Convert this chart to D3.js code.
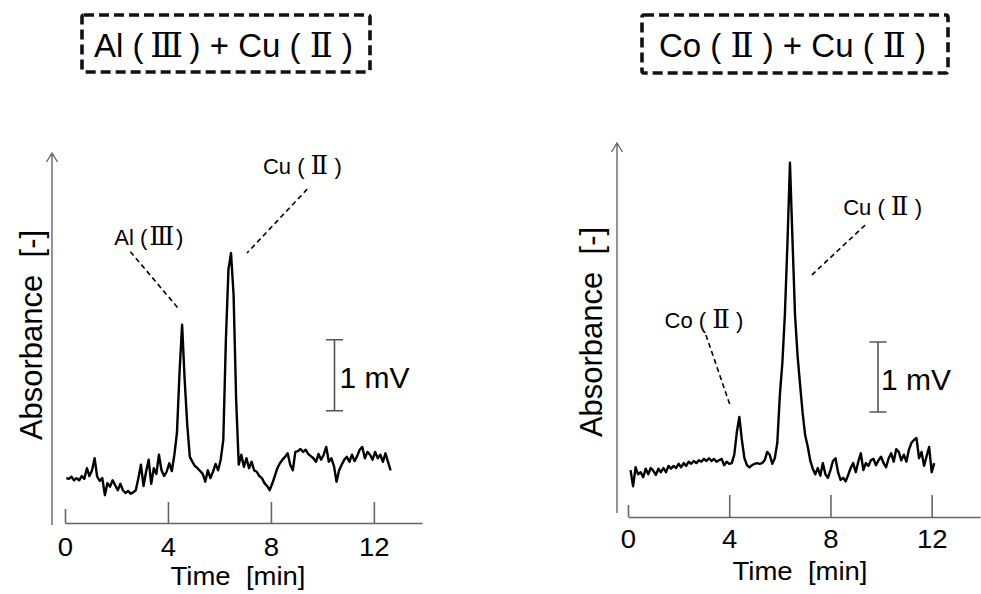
<!DOCTYPE html>
<html>
<head>
<meta charset="utf-8">
<script src="https://cdn.jsdelivr.net/npm/d3@7"></script>
<style>
  html, body { margin: 0; padding: 0; background: #fff; }
  svg { display: block; }
  text { font-family: "Liberation Sans", Arial, sans-serif; fill: #000; }
</style>
</head>
<body>
<svg id="chart" width="981" height="594"></svg>
<script>
// ---- Detector signal (mV), sampled every 0.1 min ----
const alCuStart = 0.05;
const alCuStep = 0.1;
const alCuSignal = [
  0.66,0.65,0.68,0.63,0.66,0.63,0.69,0.65,0.80,0.69,
  0.77,0.94,0.68,0.62,0.66,0.42,0.59,0.54,0.63,0.56,
  0.49,0.58,0.49,0.45,0.48,0.44,0.46,0.49,0.66,0.85,
  0.55,0.75,0.92,0.58,0.80,0.72,0.99,0.77,0.69,0.75,
  0.87,0.76,0.99,1.30,2.15,2.82,2.04,1.41,0.96,0.89,
  0.83,0.80,0.76,0.72,0.61,0.77,0.66,0.75,0.86,0.77,
  0.92,1.20,2.60,3.60,3.83,3.24,1.76,0.85,0.99,0.82,
  0.94,0.80,0.89,0.77,0.75,0.69,0.66,0.59,0.55,0.49,
  0.58,0.69,0.80,0.87,0.92,0.96,1.01,0.85,0.77,1.03,
  1.04,1.07,1.03,1.06,1.00,0.97,0.94,0.89,1.00,0.92,
  0.99,1.10,0.89,0.94,0.83,0.61,0.77,0.85,0.92,0.96,
  0.89,0.99,0.90,0.97,1.06,1.10,0.94,1.03,0.99,0.92,
  1.03,0.94,0.99,0.89,1.01,0.89,0.77
];

const coCuStart = 0.1;
const coCuStep = 0.1;
const coCuSignal = [
  0.67,0.44,0.71,0.61,0.64,0.57,0.69,0.61,0.70,0.66,
  0.60,0.69,0.64,0.70,0.64,0.73,0.69,0.73,0.70,0.76,
  0.71,0.77,0.73,0.79,0.76,0.80,0.77,0.81,0.79,0.83,
  0.80,0.84,0.80,0.83,0.79,0.81,0.83,0.74,0.79,0.76,
  0.77,0.89,1.21,1.43,1.10,0.84,0.74,0.71,0.74,0.76,
  0.77,0.76,0.77,0.81,0.93,0.89,0.76,0.84,1.06,1.74,
  2.20,2.90,3.90,5.06,3.96,2.89,2.31,1.89,1.49,1.17,
  1.01,0.81,0.69,0.61,0.70,0.59,0.77,0.61,0.56,0.67,
  0.80,0.84,0.64,0.53,0.56,0.51,0.60,0.70,0.77,0.64,
  0.79,0.91,0.67,0.77,0.73,0.81,0.83,0.74,0.81,0.86,
  0.77,0.71,0.84,0.91,0.79,0.97,0.93,0.81,0.89,0.79,
  0.96,1.06,1.10,1.13,0.84,0.93,0.73,0.87,1.00,0.64,
  0.77
];

const timeTicks = [0, 4, 8, 12];
const panelTitles = ["Al (\u2009Ⅲ\u2009) + Cu ( Ⅱ )", "Co ( Ⅱ ) + Cu ( Ⅱ )"];
const xAxisTitle = "Time  [min]";
const yAxisTitle = "Absorbance  [-]";
const scaleBarLabel = "1 mV";

// peak annotations: label, label position (min, mV), leader from -> to (min, mV)
const alCuPeaks = [
  { label: "Al (\u200AⅢ\u200A)", t: 3.26, v: 3.94, from: [2.54, 3.85], to: [4.38, 3.06] },
  { label: "Cu ( Ⅱ )", t: 9.22, v: 4.94, from: [9.41, 4.73], to: [7.07, 3.83] }
];
const coCuPeaks = [
  { label: "Co ( Ⅱ )", t: 3.00, v: 2.70, from: [3.08, 2.60], to: [4.03, 1.60] },
  { label: "Cu ( Ⅱ )", t: 10.06, v: 4.31, from: [9.37, 4.17], to: [7.27, 3.46] }
];

const numeralFont = '"DejaVu Serif", "Noto Sans CJK JP", serif';
const labelFont = 'Lato, "Open Sans", sans-serif';

const svg = d3.select("#chart");

// writes a string, switching Roman-numeral runs to a font that carries them
function richText(sel, str, numeralSize) {
  str.split(/([\u2160-\u217F]+)/).forEach(p => {
    if (!p) return;
    const ts = sel.append("tspan").text(p);
    if (/[\u2160-\u217F]/.test(p)) {
      ts.attr("font-family", numeralFont);
      if (numeralSize) ts.attr("font-size", numeralSize);
    }
  });
  return sel;
}

function drawPanel(cfg) {
  const x = d3.scaleLinear().domain([0, cfg.tMax]).range(cfg.xRange);
  const y = d3.scaleLinear().domain([0, cfg.vMax]).range(cfg.yRange);
  const g = svg.append("g");

  // title in a dashed frame
  g.append("rect")
    .attr("x", cfg.box[0]).attr("y", cfg.box[1])
    .attr("width", cfg.box[2]).attr("height", cfg.box[3])
    .attr("rx", 2)
    .attr("fill", "none").attr("stroke", "#111")
    .attr("stroke-width", 3.6).attr("stroke-dasharray", "10,5");
  richText(g.append("text")
    .attr("x", cfg.titleX).attr("y", 57)
    .attr("text-anchor", "middle").attr("font-size", 33)
    .attr("xml:space", "preserve"), cfg.title, 34);

  // time axis, ticks pointing up
  const axis = d3.axisBottom(x).tickValues(timeTicks)
    .tickSize(-cfg.tickLen).tickSizeOuter(0).tickPadding(cfg.tickPad);
  const ag = g.append("g").attr("transform", `translate(0,${cfg.axisY})`).call(axis);
  ag.select(".domain").attr("stroke", "#666").attr("stroke-width", 1.6);
  ag.selectAll(".tick line").attr("stroke", "#666").attr("stroke-width", 1.6)
    .attr("y2", d => d === 0 ? -cfg.tick0Len : -cfg.tickLen);
  ag.selectAll(".tick text")
    .attr("font-family", '"Liberation Sans", Arial, sans-serif')
    .attr("font-size", 25).attr("fill", "#000")
    .attr("transform", "scale(1.1,1)");

  g.append("g")
    .attr("transform", `translate(${cfg.xTitle[0]},${cfg.xTitle[1]}) scale(1.1,1)`)
    .append("text").attr("text-anchor", "middle").attr("font-size", 25)
    .attr("xml:space", "preserve").text(xAxisTitle);

  // absorbance axis with open arrow head
  const ax = cfg.yAxisX, top = cfg.yAxisTop, bot = cfg.yAxisBottom;
  g.append("path")
    .attr("d", `M${ax},${bot}V${top}M${ax - 5.5},${top + 9}L${ax},${top}L${ax + 5.5},${top + 9}`)
    .attr("fill", "none").attr("stroke", "#666").attr("stroke-width", 1.4);
  g.append("text")
    .attr("transform", `translate(${cfg.yTitle[0]},${cfg.yTitle[1]}) rotate(-90)`)
    .attr("text-anchor", "middle").attr("font-size", 31)
    .attr("xml:space", "preserve").text(yAxisTitle);

  // chromatogram trace
  const line = d3.line()
    .x((d, i) => x(cfg.start + i * cfg.step))
    .y(d => y(d));
  g.append("path").datum(cfg.signal)
    .attr("d", line)
    .attr("fill", "none").attr("stroke", "#000")
    .attr("stroke-width", 2.4).attr("stroke-linejoin", "round");

  // 1 mV scale bar
  const bx = x(cfg.bar.t), by0 = y(cfg.bar.v), by1 = y(cfg.bar.v + 1);
  g.append("path")
    .attr("d", `M${bx},${by0}V${by1}M${bx - 8.5},${by0}H${bx + 8.5}M${bx - 8.5},${by1}H${bx + 8.5}`)
    .attr("fill", "none").attr("stroke", "#555").attr("stroke-width", 1.6);
  g.append("text")
    .attr("x", bx + cfg.bar.dx).attr("y", (by0 + by1) / 2 + 12.5)
    .attr("font-size", 30).text(scaleBarLabel);

  // peak labels with dashed leaders
  cfg.peaks.forEach(p => {
    g.append("line")
      .attr("x1", x(p.from[0])).attr("y1", y(p.from[1]))
      .attr("x2", x(p.to[0])).attr("y2", y(p.to[1]))
      .attr("stroke", "#000").attr("stroke-width", 1.6)
      .attr("stroke-dasharray", "5,3.5");
    richText(g.append("text")
      .attr("x", x(p.t)).attr("y", y(p.v))
      .attr("text-anchor", "middle").attr("font-size", 22)
      .attr("font-family", labelFont)
      .attr("xml:space", "preserve"), p.label, 26);
  });
}

drawPanel({
  title: panelTitles[0], box: [82, 15, 288, 57], titleX: 223.5,
  tMax: 13.87, xRange: [65, 422], vMax: 5.25, yRange: [525, 152.25],
  axisY: 523, tickLen: 21, tick0Len: 14, tickPad: 15,
  xTitle: [238, 585], yAxisX: 52, yAxisTop: 153, yAxisBottom: 525, yTitle: [42, 335],
  start: alCuStart, step: alCuStep, signal: alCuSignal,
  bar: { t: 10.47, v: 1.61, dx: 5 }, peaks: alCuPeaks
});

drawPanel({
  title: panelTitles[1], box: [642, 15, 306, 58], titleX: 792.5,
  tMax: 13.91, xRange: [628, 980], vMax: 5.34, yRange: [517, 143.2],
  axisY: 517, tickLen: 22, tick0Len: 12, tickPad: 13,
  xTitle: [800, 580], yAxisX: 617, yAxisTop: 143, yAxisBottom: 513, yTitle: [602, 332],
  start: coCuStart, step: coCuStep, signal: coCuSignal,
  bar: { t: 9.88, v: 1.5, dx: 3 }, peaks: coCuPeaks
});
</script>
</body>
</html>
